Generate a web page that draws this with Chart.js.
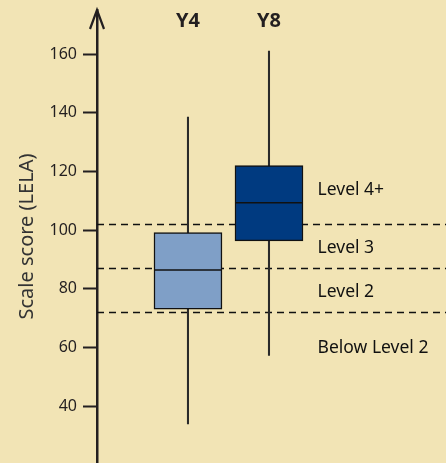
<!DOCTYPE html>
<html>
<head>
<meta charset="utf-8">
<script src="https://cdn.jsdelivr.net/npm/chart.js@4.4.1/dist/chart.umd.min.js"></script>
<style>
  html, body { margin: 0; padding: 0; background: #F2E4B5; }
  #wrap { width: 446px; height: 463px; }
</style>
</head>
<body>
<div id="wrap"><canvas id="myChart"></canvas></div>
<script>
// dados
const categories = ['Y4', 'Y8'];
const catX = [1, 2];
const whiskerMin = [33.9, 57.3];
const whiskerMax = [138.5, 161];
const q1 = [73, 96.3];
const q3 = [99.1, 122];
const medians = [86.4, 109.3];
const boxColors = ['#7F9FC7', '#003A80'];

const tickValues = [40, 60, 80, 100, 120, 140, 160];
const cutScores = [72, 87, 102];
const levelNames = ['Level 4+', 'Level 3', 'Level 2', 'Below Level 2'];
const levelLabelValues = [113.6, 94, 79, 59.7];

const ink = '#231F20';

// linhas tracejadas, mediana, seta e rotulos
const boxExtras = {
    id: 'boxExtras',
    beforeDatasetsDraw(chart) {
        const {ctx, chartArea, scales: {y}} = chart;
        ctx.save();
        ctx.strokeStyle = '#111';
        ctx.lineWidth = 1.3;
        ctx.setLineDash([7, 5]);
        cutScores.forEach(v => {
            const py = Math.round(y.getPixelForValue(v)) + 0.5;
            ctx.beginPath();
            ctx.moveTo(chartArea.left, py);
            ctx.lineTo(chartArea.right, py);
            ctx.stroke();
        });
        ctx.restore();
    },
    afterDatasetsDraw(chart) {
        const {ctx, chartArea, scales: {x, y}} = chart;
        const boxMeta = chart.getDatasetMeta(0);
        ctx.save();
        ctx.strokeStyle = '#111';
        ctx.lineWidth = 1.6;
        boxMeta.data.forEach((bar, i) => {
            const py = y.getPixelForValue(medians[i]);
            ctx.beginPath();
            ctx.moveTo(bar.x - bar.width / 2, py);
            ctx.lineTo(bar.x + bar.width / 2, py);
            ctx.stroke();
        });

        // seta do eixo
        const ax = chartArea.left;
        const top = y.getPixelForValue(y.max);
        ctx.strokeStyle = ink;
        ctx.lineWidth = 2.2;
        ctx.beginPath();
        ctx.moveTo(ax - 7, top + 19);
        ctx.lineTo(ax, top);
        ctx.lineTo(ax + 7, top + 19);
        ctx.stroke();

        ctx.fillStyle = ink;
        ctx.textAlign = 'center';
        ctx.textBaseline = 'middle';
        ctx.font = 'bold 20px "Noto Sans"';
        categories.forEach((c, i) => {
            ctx.fillText(c, x.getPixelForValue(catX[i]), 21);
        });

        ctx.fillStyle = '#111';
        ctx.textAlign = 'left';
        ctx.font = '17.5px "Noto Sans"';
        levelNames.forEach((t, i) => {
            ctx.fillText(t, x.getPixelForValue(2.6), y.getPixelForValue(levelLabelValues[i]));
        });
        ctx.restore();
    }
};

const ctx = document.getElementById('myChart');

new Chart(ctx, {
    type: 'bar',
    data: {
        datasets: [{
            label: 'box',
            data: catX.map((v, i) => ({x: v, y: [q1[i], q3[i]]})),
            backgroundColor: boxColors,
            borderColor: '#111',
            borderWidth: 1.5,
            borderSkipped: false,
            barThickness: 68,
            grouped: false,
            order: 0
        }, {
            label: 'whisker',
            data: catX.map((v, i) => ({x: v, y: [whiskerMin[i], whiskerMax[i]]})),
            backgroundColor: '#2a2a2a',
            borderWidth: 0,
            barThickness: 1.4,
            grouped: false,
            order: 1
        }]
    },
    options: {
        responsive: true,
        maintainAspectRatio: false,
        animation: false,
        layout: {padding: {top: 10, right: 0, bottom: 0, left: 0}},
        plugins: {legend: {display: false}, tooltip: {enabled: false}},
        scales: {
            x: {
                type: 'linear',
                display: false,
                offset: false,
                min: -0.123,
                max: 4.185
            },
            y: {
                min: 20.6,
                max: 175,
                afterFit: (scale) => {
                    scale.width = 97;
                    scale.paddingTop = 0;
                    scale.paddingBottom = 0;
                },
                afterBuildTicks: (scale) => { scale.ticks = tickValues.map(v => ({value: v})); },
                border: {display: true, color: ink, width: 2.5},
                grid: {drawOnChartArea: false, drawTicks: true, tickLength: 14, tickWidth: 2, tickColor: ink},
                ticks: {color: ink, padding: 6, font: {family: 'Noto Sans', size: 16}},
                title: {
                    display: true,
                    text: 'Scale score (LELA)',
                    color: '#333',
                    font: {family: 'Noto Sans', size: 20},
                    padding: {top: 15, bottom: 0}
                }
            }
        }
    },
    plugins: [boxExtras]
});
</script>
</body>
</html>
